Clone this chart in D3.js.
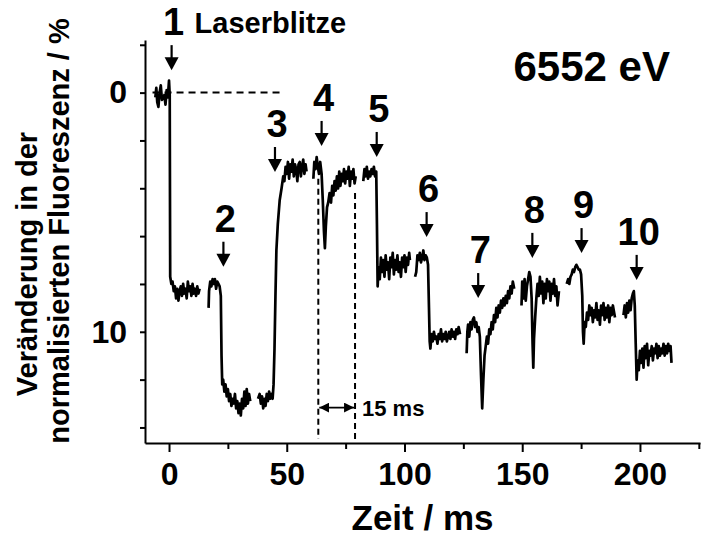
<!DOCTYPE html>
<html>
<head>
<meta charset="utf-8">
<script src="https://cdn.jsdelivr.net/npm/d3@7"></script>
<style>
  body { margin: 0; background: #fff; }
  svg { display: block; }
  text { font-family: "Liberation Sans", Arial, Helvetica, sans-serif; font-weight: bold; fill: #000; }
</style>
</head>
<body>
<svg width="701" height="537"></svg>
<script>
// trace segments, [time in ms, change in %] (gaps between segments)
const segA = [[-5.8,0.2],[-5.4,-0.2],[-5,0.4],[-4.5,0.6],[-4,0.0],[-3.5,-0.3],[-3,0.3],[-2,0.1],[-1.5,0.5],[-1,-0.1],[-0.5,0.2],[0,-0.5],[0.3,0.1],[0.5,7.7],
  [1,8.0],[1.5,7.9],[2,8.3],[2.5,8.1],[3,8.6],[3.5,8.2],[4,8.7],[4.5,8.3],[5,8.1],[5.5,8.5],[6,8.0],[6.5,8.4],[7,8.2],[7.5,8.6],[8,7.9],[8.5,8.3],
  [9,8.1],[9.5,8.5],[10,8.0],[10.5,8.4],[11,8.2],[11.5,8.5],[12,8.1],[12.5,8.4],[13,8.2]];
const segB = [[16.8,9.0],[17,8.3],[17.5,7.9],[18,8.1],[18.5,7.8],[19,8.0],[19.5,7.8],[20,8.2],[20.5,7.9],[21,8.0],[21.5,8.1],[22,8.5],[22.3,11.0],
  [22.6,12.2],[23,12.0],[23.5,12.5],[24,12.2],[24.5,12.7],[25,12.4],[25.5,12.9],[26,12.6],[26.5,13.1],[27,12.8],[27.5,13.0],[28,12.6],[28.5,13.2],
  [29,12.9],[29.5,13.4],[30,13.0],[30.5,13.5],[31,12.8],[31.5,13.2],[32,12.5],[32.5,13.1],[33,12.4],[33.5,13.0],[34,12.6],[34.5,12.9]];
const segC = [[37.8,12.8],[38.5,12.6],[39,13.0],[39.5,12.7],[40,13.2],[40.5,12.8],[41,13.1],[41.5,12.6],[42,12.9],[42.5,12.5],[43,12.8],[43.5,12.6],
  [44,12.8],[44.4,12.2],[44.8,10.7],[45.2,8.5],[45.6,6.6],[46.2,5.5],[47,4.5],[47.8,4.0],[48.5,3.5],[49,3.7],[49.5,3.1],[50,3.4],[50.5,2.9],[51,3.6],
  [51.5,3.0],[52,3.3],[52.5,2.8],[53,3.5],[53.5,3.0],[54,3.2],[54.5,3.7],[55,3.0],[55.5,2.9],[56,3.5],[56.5,3.1],[57,2.8],[57.5,3.4],[58,3.0],[58.4,3.3]];
const segD = [[61.3,3.6],[61.7,2.9],[62.2,3.2],[62.7,2.7],[63.2,3.1],[63.7,3.4],[64.2,2.9],[64.8,3.4],[65.3,4.5],[65.8,5.8],[66.2,6.5],[66.6,5.6],
  [67.1,4.8],[67.6,4.6],[68.2,4.2],[68.8,4.6],[69.3,3.9],[69.8,4.3],[70.3,3.7],[70.8,4.1],[71.3,3.5],[71.8,4.0],[72.3,3.3],[72.8,3.9],[73.3,3.4],
  [73.8,3.7],[74.3,3.2],[74.8,3.8],[75.3,3.3],[75.8,3.6],[76.3,3.1],[76.8,3.9],[77.3,3.3],[77.8,3.6],[78.3,3.2],[78.8,3.8],[79.3,3.5]];
const segE = [[82.5,3.7],[83,3.2],[83.5,3.5],[84,3.1],[84.5,3.6],[85,3.3],[85.5,3.5],[86,3.2],[86.5,3.4],[87,3.1],[87.5,3.5],[88,3.3],[88.3,5.5],
  [88.6,8.1],[89,7.3],[89.5,7.8],[90,6.9],[90.5,7.5],[91,7.0],[91.5,7.7],[92,6.8],[92.5,7.4],[93,7.1],[93.5,7.8],[94,6.9],[94.5,7.3],[95,6.7],
  [95.5,7.6],[96,7.0],[96.5,7.4],[97,6.8],[97.5,7.5],[98,7.1],[98.5,7.7],[99,6.9],[99.5,7.3],[100,6.8],[100.5,7.5],[101,6.9],[101.5,7.2],[102,6.7],[102.3,7.0]];
const segF = [[104.5,7.7],[105,7.5],[105.5,6.8],[106,7.0],[106.5,6.7],[107,7.1],[107.5,6.9],[108,6.6],[108.5,7.0],[109,6.8],[109.5,6.9],[110,7.2],
  [110.4,9.0],[110.7,10.4],[111,10.7],[111.5,10.1],[112,10.4],[112.5,10.0],[113,10.3],[113.5,10.2],[114,10.5],[114.5,10.1],[115,10.3],[115.5,9.9],
  [116,10.4],[116.5,10.1],[117,10.3],[117.5,10.0],[118,10.4],[118.5,10.2],[119,10.0],[119.5,10.3],[120,9.9],[120.5,10.2],[121,10.0],[121.5,10.3],
  [122,9.9],[122.5,10.1],[123,9.8],[123.6,10.1]];
const segG = [[126.4,10.9],[126.7,10.0],[127,9.7],[127.5,10.2],[128,9.6],[128.5,9.9],[129,9.5],[129.5,9.4],[130,9.8],[130.5,9.6],[131,10.0],[131.5,9.8],
  [132,10.2],[132.5,11.8],[133,13.2],[133.5,12.0],[134,11.0],[134.5,10.6],[135,10.2],[135.5,10.5],[136,9.9],[136.5,10.1],[137,9.6],[137.5,9.9],[138,9.3],
  [138.5,9.6],[139,9.0],[139.5,9.4],[140,8.9],[140.5,9.2],[141,8.7],[141.5,9.0],[142,8.6],[142.5,8.9],[143,8.5],[143.5,8.8],[144,8.3],[144.5,8.6],
  [145,8.1],[145.5,8.4],[146,7.9],[146.6,8.2]];
const segH = [[149.7,8.9],[150,7.9],[150.5,8.6],[151,7.8],[151.5,8.7],[152,8.1],[152.5,7.8],[153,7.5],[153.5,7.7],[154,8.6],[154.4,10.5],[154.7,11.5],
  [155,10.3],[155.5,9.4],[156,8.6],[156.5,8.0],[157,8.5],[157.5,7.7],[158,8.4],[158.5,7.9],[159,8.8],[159.5,8.0],[160,8.6],[160.5,7.8],[161,8.3],
  [161.5,7.9],[162,8.7],[162.5,8.0],[163,8.4],[163.5,7.8],[164,8.5],[164.5,8.1],[165,8.9],[165.6,8.3]];
const segI = [[168.9,8.0],[169.5,7.8],[170,8.0],[170.5,7.7],[171,7.6],[171.5,7.4],[172,7.5],[172.5,7.3],[173,7.2],[173.5,7.3],[174,7.4],[174.5,7.4],
  [175,7.6],[175.5,8.5],[175.8,10.0],[176.1,10.5],[176.5,9.6],[177,9.8],[177.5,9.2],[178,9.5],[178.5,8.9],[179,9.3],[179.5,9.0],[180,9.6],[180.5,9.1],
  [181,9.4],[181.5,8.8],[182,9.5],[182.5,9.1],[183,9.7],[183.5,8.9],[184,9.3],[184.5,8.8],[185,9.5],[185.5,9.0],[186,9.4],[186.5,8.9],[187,9.6],
  [187.5,9.0],[188,9.3],[188.5,8.9],[189.4,9.4]];
const segJ = [[193,9.3],[193.5,8.9],[194,9.4],[194.5,8.8],[195,9.2],[195.5,8.7],[196,9.1],[196.5,8.6],[197,8.4],[197.4,8.3],[197.8,8.9],[198.2,10.5],
  [198.6,12.0],[199,11.2],[199.5,11.6],[200,10.8],[200.5,11.3],[201,10.7],[201.5,11.5],[202,10.6],[202.5,11.1],[203,10.5],[203.5,11.4],[204,10.8],
  [204.5,11.0],[205,10.6],[205.5,11.2],[206,10.7],[206.5,10.9],[207,10.5],[207.5,11.1],[208,10.6],[208.5,11.0],[209,10.7],[209.5,10.9],[210,10.5],
  [210.5,11.0],[211,10.6],[211.5,10.9],[212,10.5],[212.5,10.8],[213,10.6],[213.4,11.3]];
const segments = [segA, segB, segC, segD, segE, segF, segG, segH, segI, segJ];

// laser flashes: number, time (ms), arrow tip value (%)
const flashLabels = ['1','2','3','4','5','6','7','8','9','10'];
const flashTimes = [1.1, 23.1, 45.0, 64.8, 88.2, 109.4, 131.3, 154.3, 175.2, 198.6];
const flashTips = [-0.94, 7.28, 3.32, 2.23, 2.69, 6.04, 8.59, 6.91, 6.71, 7.83];

const xTicks = d3.range(0, 226, 25);
const xTickLabels = [0, 50, 100, 150, 200];
const yTicks = d3.range(-2, 15, 2);
const yTickLabels = [0, 10];

const zeroLine = [-7, 48];            // dashed baseline, ms
const intervalTimes = [63.4, 79.0];   // 15 ms marker
const intervalTops = [3.6, 4.2];
const intervalLevel = 13.17;

const svg = d3.select('svg');

const x = d3.scaleLinear().domain([-10.2, 225.5]).range([145, 700]);
const y = d3.scaleLinear().domain([-2.2, 14.65]).range([40, 443]);

// axes
const xAxis = svg.append('g')
  .attr('transform', `translate(0,${y.range()[1]})`)
  .call(d3.axisBottom(x).tickValues(xTicks).tickSize(9).tickSizeOuter(0).tickPadding(10)
    .tickFormat(d => xTickLabels.includes(d) ? d : ''));
xAxis.select('.domain').attr('stroke-width', 2.2);
xAxis.selectAll('.tick line').attr('stroke-width', 2)
  .attr('y2', d => xTickLabels.includes(d) ? 9 : 6);
xAxis.selectAll('.tick text').style('font-size', '32px');

const yAxis = svg.append('g')
  .attr('transform', `translate(${x.range()[0]},0)`)
  .call(d3.axisLeft(y).tickValues(yTicks).tickSize(5).tickSizeOuter(0).tickPadding(13)
    .tickFormat(d => yTickLabels.includes(d) ? d : ''));
yAxis.select('.domain').attr('stroke-width', 2);
yAxis.selectAll('.tick line').attr('stroke-width', 2);
yAxis.selectAll('.tick text').style('font-size', '32px');

// dashed zero line
svg.append('line')
  .attr('x1', x(zeroLine[0])).attr('x2', x(zeroLine[1]))
  .attr('y1', y(0)).attr('y2', y(0))
  .attr('stroke', '#000').attr('stroke-width', 2).attr('stroke-dasharray', '7,5');

// trace
const line = d3.line().x(d => x(d[0])).y(d => y(d[1]));
svg.selectAll('path.trace').data(segments).enter().append('path')
  .attr('class', 'trace')
  .attr('d', line)
  .attr('fill', 'none')
  .attr('stroke', '#000')
  .attr('stroke-width', 2.7)
  .attr('stroke-linejoin', 'round');

// 15 ms interval
svg.selectAll('line.interval').data(intervalTimes).enter().append('line')
  .attr('class', 'interval')
  .attr('x1', d => x(d)).attr('x2', d => x(d))
  .attr('y1', (d, i) => y(intervalTops[i])).attr('y2', y.range()[1] - 4)
  .attr('stroke', '#000').attr('stroke-width', 2).attr('stroke-dasharray', '6,4');

const defs = svg.append('defs');
defs.append('marker').attr('id', 'ah').attr('viewBox', '0 0 10 10')
  .attr('refX', 10).attr('refY', 5).attr('markerWidth', 10).attr('markerHeight', 10)
  .attr('markerUnits', 'userSpaceOnUse').attr('orient', 'auto-start-reverse')
  .append('path').attr('d', 'M0,0L10,5L0,10Z').attr('fill', '#000');
svg.append('line')
  .attr('x1', x(intervalTimes[0]) + 1).attr('x2', x(intervalTimes[1]) - 1)
  .attr('y1', y(intervalLevel)).attr('y2', y(intervalLevel))
  .attr('stroke', '#000').attr('stroke-width', 1.8)
  .attr('marker-start', 'url(#ah)').attr('marker-end', 'url(#ah)');
svg.append('text')
  .attr('x', x(intervalTimes[1]) + 7).attr('y', y(intervalLevel) + 8)
  .style('font-size', '22px').text('15 ms');

// flash arrows
const arrowLen = 25, headLen = 13, headW = 7;
const flashes = flashTimes.map((t, i) => ({label: flashLabels[i], t, v: flashTips[i]}));
const fg = svg.selectAll('g.flash').data(flashes).enter().append('g')
  .attr('class', 'flash')
  .attr('transform', d => `translate(${x(d.t)},${y(d.v)})`);
fg.append('line')
  .attr('x1', 0).attr('x2', 0).attr('y1', -arrowLen).attr('y2', -headLen + 1)
  .attr('stroke', '#000').attr('stroke-width', 2.2);
fg.append('path')
  .attr('d', `M${-headW},${-headLen}L${headW},${-headLen}L0,0Z`)
  .attr('fill', '#000');
fg.append('text')
  .attr('x', 2).attr('y', -arrowLen - 10)
  .attr('text-anchor', 'middle')
  .style('font-size', '38px')
  .text(d => d.label);

svg.append('text')
  .attr('x', x(flashTimes[0]) + 23).attr('y', y(flashTips[0]) - arrowLen - 12)
  .style('font-size', '29px').text('Laserblitze');

// energy label
svg.append('text')
  .attr('x', 670).attr('y', 81).attr('text-anchor', 'end')
  .style('font-size', '42px').text('6552 eV');

// axis titles
svg.append('text')
  .attr('x', d3.mean(x.range())).attr('y', 530)
  .attr('text-anchor', 'middle')
  .style('font-size', '35px').text('Zeit / ms');

svg.append('text')
  .attr('transform', 'translate(37,264) rotate(-90)')
  .attr('text-anchor', 'middle')
  .style('font-size', '29px').text('Veränderung in der');
svg.append('text')
  .attr('transform', 'translate(69,231) rotate(-90)')
  .attr('text-anchor', 'middle')
  .style('font-size', '29px').text('normalisierten Fluoreszenz / %');
</script>
</body>
</html>
